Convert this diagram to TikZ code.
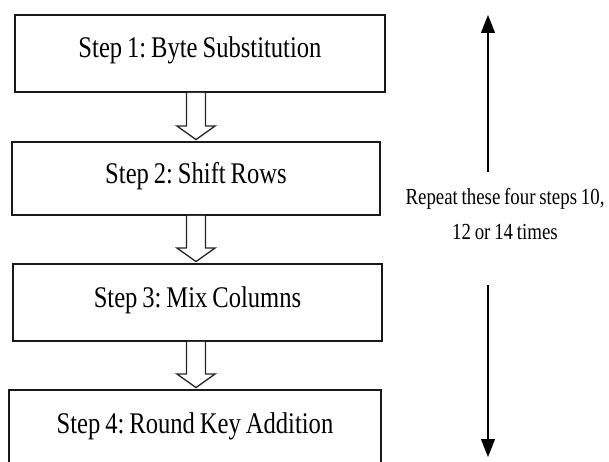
\documentclass[tikz,border=0pt]{standalone}
\usepackage{fontspec}
\setmainfont[FakeStretch=0.82,WordSpace=0.8]{Liberation Serif}
\usetikzlibrary{arrows.meta,calc}
\frenchspacing

\tikzset{
  stepbox/.style={draw=black!90, line width=1.9pt, rectangle, inner sep=0pt,
    minimum height=77pt, text height=20pt, text depth=11pt,
    font=\fontsize{30}{36}\selectfont},
  hollow/.style={draw=black!85, line width=1.3pt, line join=miter, fill=white},
  loopline/.style={draw=black, line width=1.1pt, -{Triangle[width=14pt,length=18pt]}},
  note/.style={align=center, inner sep=0pt,
    font=\fontsize{23}{35}\selectfont}
}

% hollow block arrow from the bottom of #1 down to the top of #2, on the axis (ax)
\newcommand\blockarrow[2]{%
  \draw[hollow]
    ($(ax |- #1.south)+(-9.5,0)$) --
    ($(ax |- #2.north)+(-9.5,-15)$) --
    ($(ax |- #2.north)+(-19,-15)$) --
    ($(ax |- #2.north)+(0,-1.5)$) --
    ($(ax |- #2.north)+(19,-15)$) --
    ($(ax |- #2.north)+(9.5,-15)$) --
    ($(ax |- #1.south)+(9.5,0)$);
}

\begin{document}
\begin{tikzpicture}[x=1pt,y=-1pt]
  \useasboundingbox (0,0) rectangle (609,462);

  % the four round steps
  \node[stepbox, minimum width=370pt] (b1) at (200,53.5) {Step 1: Byte Substitution};
  \node[stepbox, minimum width=368pt, minimum height=73pt] (b2) at (196,178.5) {Step 2: Shift Rows};
  \node[stepbox, minimum width=369pt] (b3) at (197.5,302.5) {Step 3: Mix Columns};
  \node[stepbox, minimum width=372pt] (b4) at (195,428.5) {Step 4: Round Key Addition};

  % arrows between steps
  \coordinate (ax) at (196,0);
  \blockarrow{b1}{b2}
  \blockarrow{b2}{b3}
  \blockarrow{b3}{b4}

  % repetition note with its two arrows
  \node[note] (rep) at (505,214) {Repeat these four steps 10,\\12 or 14 times};
  \coordinate (upstart) at (488,172);
  \coordinate (uptip) at (488,15);
  \coordinate (downstart) at (488,285);
  \coordinate (downtip) at (488,457);
  \draw[loopline] (upstart) -- (uptip);
  \draw[loopline] (downstart) -- (downtip);
\end{tikzpicture}
\end{document}
